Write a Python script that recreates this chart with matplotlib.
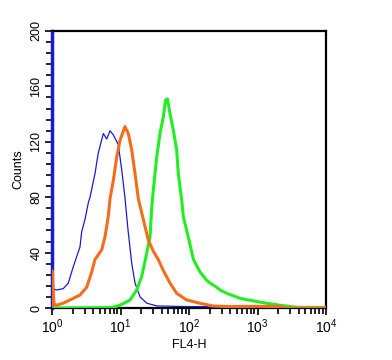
import numpy as np
import matplotlib
matplotlib.use("Agg")
import matplotlib.pyplot as plt
from matplotlib.ticker import LogLocator, MultipleLocator, FixedLocator

plt.rcParams['font.family'] = ['Liberation Sans', 'DejaVu Sans']
plt.rcParams['mathtext.fontset'] = 'custom'
plt.rcParams['mathtext.rm'] = 'Liberation Sans'
plt.rcParams['mathtext.it'] = 'Liberation Sans'
plt.rcParams['mathtext.default'] = 'regular'

# histogramas (FL4-H, cuentas)
azul_x = [1.0, 1.0, 1.02, 1.17, 1.46, 1.73, 2.05, 2.56, 2.71, 3.03, 3.39, 3.59, 4.24, 4.74,
          5.61, 6.29, 7.03, 7.85, 9.29, 10.4, 11.6, 12.9, 14.6, 16.3, 19.3, 24.1, 33.8,
          60.0, 103, 203, 206, 10000]
azul_y = [0, 210, 14, 13, 14, 18, 30, 44, 55, 64, 76, 80, 97, 112,
          126, 122, 128, 125, 118, 100, 80, 56, 32, 18, 8, 3.5, 1.5,
          1.2, 1, 1, 0, 0]

naranja_x = [1.0, 1.0, 1.07, 1.17, 1.46, 2.05, 2.56, 3.21, 3.80, 4.24, 5.32, 5.94, 6.63, 7.03,
             7.85, 8.80, 9.84, 11.6, 13.0, 14.6, 16.3, 18.2, 21.5, 25.5, 30.1, 35.6, 42.2,
             52.8, 66.1, 92.5, 145, 226, 397, 1000, 2130, 2520, 10000]
naranja_y = [0, 27, 3, 2, 3.5, 7, 9.4, 15, 26, 35, 42, 51.5, 66, 79,
             92, 109, 121, 131, 126, 114, 97, 79, 64, 49, 41, 35, 27,
             18, 10.6, 5.8, 3.4, 1.4, 1, 1.2, 1, 0, 0]

verde_x = [1.0, 6.29, 7.78, 9.84, 13.8, 17.2, 20.4, 24.1, 27.0, 28.5, 30.1, 33.8, 37.7, 42.2,
           45.4, 48.5, 52.8, 59.0, 66.1, 69.8, 78.2, 82.6, 92.5, 100, 116, 145, 181, 203,
           254, 284, 355, 556, 700, 1362, 2130, 3735, 10000]
verde_y = [0, 0.3, 0.5, 2, 5.8, 13, 22.6, 39.5, 51.5, 72, 85, 109, 126, 138,
           150, 151, 140.6, 128.5, 114, 97, 78, 66, 56, 49, 35, 26, 20, 18,
           15, 13, 10.6, 7, 6, 3.4, 2, 0.5, 0.3]

fig = plt.figure(figsize=(3.92, 3.6), dpi=100)
ax = fig.add_axes([52/392, 1-308/360, 274/392, 277/360])

ax.plot(azul_x, azul_y, color='#1a1ad2', lw=0.9, zorder=3)
ax.plot(verde_x, verde_y, color='#22ee22', lw=2.2, zorder=4)
ax.plot(naranja_x, naranja_y, color='#f56d1c', lw=2.2, zorder=5)

ax.set_xscale('log')
ax.set_xlim(1, 10000)
ax.set_ylim(0, 200)

ax.xaxis.set_major_locator(LogLocator(base=10, numticks=10))
ax.xaxis.set_minor_locator(LogLocator(base=10, subs=np.arange(2, 10), numticks=10))
ax.yaxis.set_major_locator(MultipleLocator(40))
ax.yaxis.set_minor_locator(MultipleLocator(8))

ax.tick_params(axis='both', which='major', direction='out', length=5, width=1.2, labelsize=9, pad=2)
ax.tick_params(axis='both', which='minor', direction='out', length=4, width=1.2)
for lab in ax.get_yticklabels():
    lab.set_rotation(90)
    lab.set_va('center')
ax.tick_params(axis='x', labelsize=10)

for s in ['top', 'right', 'bottom']:
    ax.spines[s].set_linewidth(1.6)
    ax.spines[s].set_color('black')
ax.spines['left'].set_linewidth(2.5)
ax.spines['left'].set_color('#1a1ad2')

ax.set_xlabel('FL4-H', fontsize=9, labelpad=2)
ax.set_ylabel('Counts', fontsize=9, labelpad=4)

fig.savefig('out.png', dpi=100)
